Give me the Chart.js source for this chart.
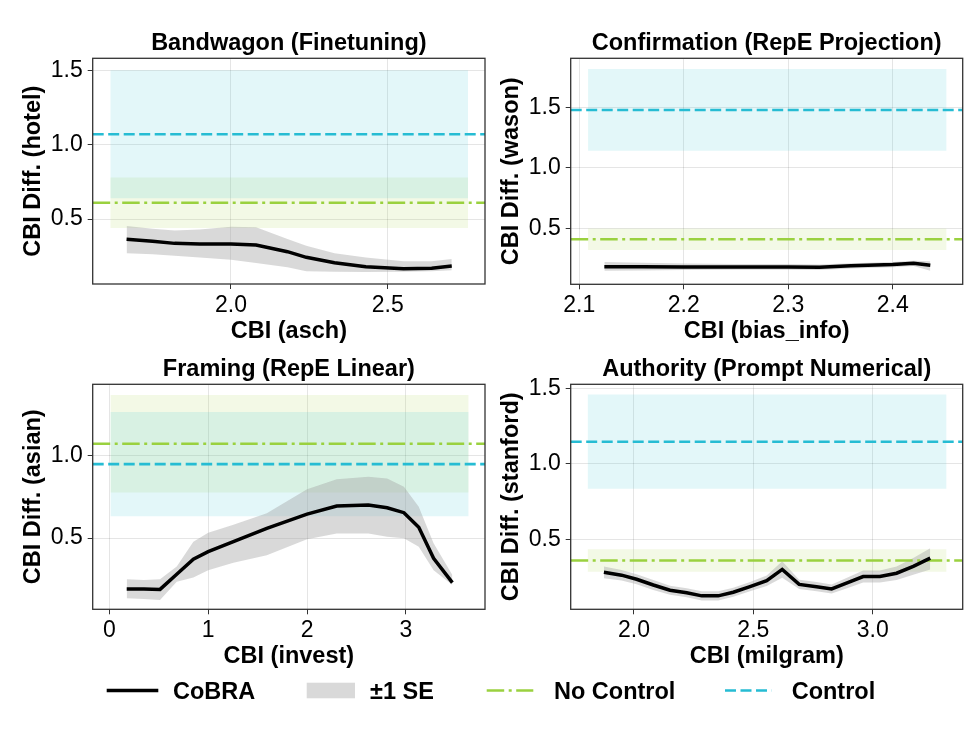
<!DOCTYPE html>
<html>
<head>
<meta charset="utf-8">
<script src="https://cdn.jsdelivr.net/npm/chart.js@4.4.0/dist/chart.umd.min.js"></script>
<style>
  html, body { margin: 0; padding: 0; background: #fff; }
  #page { position: relative; width: 968px; height: 752px; overflow: hidden; }
  #page canvas { position: absolute; }
  #legend { position: absolute; left: 0; top: 670px; }
</style>
</head>
<body>
<div id="page">
  <canvas id="bandwagon" width="490" height="346" style="left:0;top:0"></canvas>
  <canvas id="confirmation" width="490" height="346" style="left:478px;top:0"></canvas>
  <canvas id="framing" width="490" height="326" style="left:0;top:346px"></canvas>
  <canvas id="authority" width="490" height="326" style="left:478px;top:346px"></canvas>
  <svg id="legend" width="968" height="40" font-family="Liberation Sans, Arial, sans-serif" font-weight="bold" font-size="23.5">
    <line x1="106.7" x2="158.3" y1="20.5" y2="20.5" stroke="#000" stroke-width="3.3"/>
    <text x="173" y="28.5">CoBRA</text>
    <rect x="306.7" y="12.7" width="48.3" height="15.6" fill="#d9d9d9"/>
    <text x="370" y="28.5">±1 SE</text>
    <line x1="486.7" x2="533.3" y1="20.5" y2="20.5" stroke="#9ad13f" stroke-width="2.6" stroke-dasharray="17.5 4.5 3 4.5"/>
    <text x="554" y="28.5">No Control</text>
    <line x1="725" x2="771.7" y1="20.5" y2="20.5" stroke="#26bcd3" stroke-width="2.6" stroke-dasharray="11 4.5"/>
    <text x="791.7" y="28.5">Control</text>
  </svg>
</div>
<script>
// --- Bandwagon (Finetuning) ---
const bandwagonX    = [1.667, 1.75, 1.82, 1.90, 2.00, 2.08, 2.18, 2.24, 2.33, 2.43, 2.55, 2.64, 2.704];
const bandwagonMean = [0.363, 0.350, 0.336, 0.332, 0.332, 0.325, 0.280, 0.242, 0.206, 0.179, 0.165, 0.168, 0.183];
const bandwagonHigh = [0.453, 0.435, 0.422, 0.430, 0.448, 0.445, 0.365, 0.320, 0.270, 0.240, 0.215, 0.215, 0.230];
const bandwagonLow  = [0.270, 0.262, 0.253, 0.240, 0.225, 0.204, 0.175, 0.148, 0.144, 0.143, 0.144, 0.148, 0.155];
const bandwagonControl = [1.072, 0.431];   // mean, SE
const bandwagonNoControl = [0.610, 0.171];

// --- Confirmation (RepE Projection) ---
const confirmationX    = [2.124, 2.16, 2.20, 2.25, 2.30, 2.33, 2.36, 2.40, 2.42, 2.436];
const confirmationMean = [0.183, 0.182, 0.180, 0.180, 0.180, 0.177, 0.190, 0.200, 0.210, 0.195];
const confirmationHigh = [0.222, 0.215, 0.208, 0.205, 0.205, 0.200, 0.212, 0.222, 0.232, 0.228];
const confirmationLow  = [0.150, 0.152, 0.155, 0.157, 0.157, 0.155, 0.168, 0.178, 0.188, 0.150];
const confirmationControl = [1.478, 0.338];
const confirmationNoControl = [0.409, 0.089];

// --- Framing (RepE Linear) ---
const framingX    = [0.176, 0.35, 0.513, 0.682, 0.85, 1.00, 1.255, 1.593, 2.00, 2.30, 2.62, 2.81, 2.98, 3.13, 3.28, 3.47];
const framingMean = [0.190, 0.190, 0.188, 0.280, 0.372, 0.417, 0.478, 0.559, 0.645, 0.694, 0.700, 0.684, 0.654, 0.565, 0.377, 0.229];
const framingHigh = [0.250, 0.245, 0.250, 0.327, 0.478, 0.532, 0.580, 0.650, 0.796, 0.857, 0.873, 0.862, 0.812, 0.690, 0.468, 0.276];
const framingLow  = [0.134, 0.130, 0.123, 0.234, 0.260, 0.305, 0.350, 0.396, 0.492, 0.528, 0.528, 0.508, 0.498, 0.447, 0.305, 0.214];
const framingControl = [0.949, 0.316];
const framingNoControl = [1.073, 0.296];

// --- Authority (Prompt Numerical) ---
const authorityX    = [1.874, 1.948, 2.011, 2.081, 2.151, 2.221, 2.284, 2.353, 2.416, 2.486, 2.556, 2.621, 2.692, 2.765, 2.828, 2.890, 2.960, 3.030, 3.100, 3.170, 3.241];
const authorityMean = [0.281, 0.262, 0.235, 0.197, 0.162, 0.146, 0.125, 0.125, 0.149, 0.186, 0.225, 0.300, 0.201, 0.186, 0.171, 0.209, 0.253, 0.253, 0.275, 0.320, 0.375];
const authorityHigh = [0.320, 0.297, 0.268, 0.230, 0.192, 0.176, 0.155, 0.155, 0.179, 0.216, 0.260, 0.355, 0.231, 0.216, 0.201, 0.244, 0.293, 0.293, 0.320, 0.375, 0.440];
const authorityLow  = [0.242, 0.227, 0.202, 0.164, 0.132, 0.116, 0.095, 0.095, 0.119, 0.156, 0.190, 0.245, 0.171, 0.156, 0.141, 0.174, 0.213, 0.213, 0.230, 0.265, 0.300];
const authorityControl = [1.146, 0.312];
const authorityNoControl = [0.359, 0.074];

// tick values
const bandwagonXTicks = [2.0, 2.5],               bandwagonYTicks = [0.5, 1.0, 1.5];
const confirmationXTicks = [2.1, 2.2, 2.3, 2.4],  confirmationYTicks = [0.5, 1.0, 1.5];
const framingXTicks = [0, 1, 2, 3],               framingYTicks = [0.5, 1.0];
const authorityXTicks = [2.0, 2.5, 3.0],          authorityYTicks = [0.5, 1.0, 1.5];

const FONT = 'Liberation Sans, Arial, Helvetica, sans-serif';
const GREEN = '#9ad13f';
const CYAN = '#26bcd3';
Chart.defaults.font.family = FONT;

const panels = [
  { id: 'bandwagon', title: 'Bandwagon (Finetuning)', xLabel: 'CBI (asch)', yLabel: 'CBI Diff. (hotel)',
    x: bandwagonX, mean: bandwagonMean, high: bandwagonHigh, low: bandwagonLow,
    ctrl: bandwagonControl, noCtrl: bandwagonNoControl,
    xTicks: bandwagonXTicks, yTicks: bandwagonYTicks, xDec: 1,
    xLim: [1.559, 2.81], yLim: [0.062, 1.584],
    box: [0, 0, 490, 346], area: [92.7, 58.3, 485, 284] },
  { id: 'confirmation', title: 'Confirmation (RepE Projection)', xLabel: 'CBI (bias_info)', yLabel: 'CBI Diff. (wason)',
    x: confirmationX, mean: confirmationMean, high: confirmationHigh, low: confirmationLow,
    ctrl: confirmationControl, noCtrl: confirmationNoControl,
    xTicks: confirmationXTicks, yTicks: confirmationYTicks, xDec: 1,
    xLim: [2.0918, 2.467], yLim: [0.037, 1.905],
    box: [478, 0, 490, 346], area: [570.7, 58.3, 962.7, 284.3] },
  { id: 'framing', title: 'Framing (RepE Linear)', xLabel: 'CBI (invest)', yLabel: 'CBI Diff. (asian)',
    x: framingX, mean: framingMean, high: framingHigh, low: framingLow,
    ctrl: framingControl, noCtrl: framingNoControl,
    xTicks: framingXTicks, yTicks: framingYTicks, xDec: 0,
    xLim: [-0.168, 3.8], yLim: [0.067, 1.434],
    box: [0, 346, 490, 326], area: [92.7, 384.3, 485, 609.3] },
  { id: 'authority', title: 'Authority (Prompt Numerical)', xLabel: 'CBI (milgram)', yLabel: 'CBI Diff. (stanford)',
    x: authorityX, mean: authorityMean, high: authorityHigh, low: authorityLow,
    ctrl: authorityControl, noCtrl: authorityNoControl,
    xTicks: authorityXTicks, yTicks: authorityYTicks, xDec: 1,
    xLim: [1.735, 3.377], yLim: [0.036, 1.526],
    box: [478, 346, 490, 326], area: [570.7, 384.3, 962.7, 609.3] }
];

const X_AXIS_H = 61.5;

// title above the plot + frame around it
const decorPlugin = {
  id: 'decor',
  afterDatasetsDraw(chart) {
    const { ctx, chartArea: a } = chart;
    ctx.save();
    ctx.strokeStyle = '#333';
    ctx.lineWidth = 1.3;
    ctx.strokeRect(a.left, a.top, a.right - a.left, a.bottom - a.top);
    ctx.restore();
  },
  afterDraw(chart, args, opts) {
    const { ctx, chartArea: a } = chart;
    ctx.save();
    ctx.font = 'bold 23.5px ' + FONT;
    ctx.fillStyle = '#000';
    ctx.textAlign = 'center';
    ctx.textBaseline = 'alphabetic';
    ctx.fillText(opts.text, (a.left + a.right) / 2, a.top - 8);
    ctx.restore();
  }
};

function pts(xs, ys) { return xs.map((x, i) => ({ x: x, y: ys[i] })); }
function flat(x0, x1, y) { return [{ x: x0, y: y }, { x: x1, y: y }]; }

panels.forEach(p => {
  const lo = Math.min(...p.x), hi = Math.max(...p.x);
  const pad = (hi - lo) * 0.05;
  const b0 = lo - pad, b1 = hi + pad;
  const hidden = { borderWidth: 0, borderColor: 'rgba(0,0,0,0)', pointRadius: 0 };

  const datasets = [
    { data: pts(p.x, p.mean), borderColor: '#000', borderWidth: 3.5, pointRadius: 0, fill: false, tension: 0 },
    { data: flat(p.xLim[0], p.xLim[1], p.ctrl[0]), borderColor: CYAN, borderWidth: 2.6, borderDash: [11, 4.5], pointRadius: 0, fill: false },
    { data: flat(p.xLim[0], p.xLim[1], p.noCtrl[0]), borderColor: GREEN, borderWidth: 2.6, borderDash: [17.5, 4.5, 3, 4.5], pointRadius: 0, fill: false },
    Object.assign({ data: pts(p.x, p.high), fill: 4, backgroundColor: 'rgba(160,160,160,0.4)' }, hidden),
    Object.assign({ data: pts(p.x, p.low), fill: false }, hidden),
    Object.assign({ data: flat(b0, b1, p.ctrl[0] + p.ctrl[1]), fill: 6, backgroundColor: 'rgba(23,190,207,0.12)' }, hidden),
    Object.assign({ data: flat(b0, b1, p.ctrl[0] - p.ctrl[1]), fill: false }, hidden),
    Object.assign({ data: flat(b0, b1, p.noCtrl[0] + p.noCtrl[1]), fill: 8, backgroundColor: 'rgba(154,205,50,0.12)' }, hidden),
    Object.assign({ data: flat(b0, b1, p.noCtrl[0] - p.noCtrl[1]), fill: false }, hidden)
  ];

  const [cl, ct, cw, chh] = p.box;
  const [L, T, R, B] = p.area;

  new Chart(document.getElementById(p.id), {
    type: 'line',
    data: { datasets: datasets },
    plugins: [decorPlugin],
    options: {
      responsive: false,
      animation: false,
      devicePixelRatio: 1,
      layout: { padding: { left: 0, top: T - ct, right: cl + cw - R, bottom: ct + chh - B - X_AXIS_H } },
      plugins: {
        legend: { display: false },
        tooltip: { enabled: false },
        decor: { text: p.title }
      },
      scales: {
        x: {
          type: 'linear',
          min: p.xLim[0], max: p.xLim[1],
          afterBuildTicks: s => { s.ticks = p.xTicks.map(v => ({ value: v })); },
          afterFit: s => { s.height = X_AXIS_H; },
          ticks: {
            color: '#000', font: { size: 23 }, padding: 3, maxRotation: 0, autoSkip: false,
            callback: v => Number(v).toFixed(p.xDec)
          },
          grid: { color: 'rgba(0,0,0,0.1)', lineWidth: 1, tickColor: '#333', tickLength: 5 },
          border: { display: false },
          title: { display: true, text: p.xLabel, color: '#000', font: { size: 23.5, weight: 'bold' }, padding: { top: 0, bottom: 0 } }
        },
        y: {
          type: 'linear',
          min: p.yLim[0], max: p.yLim[1],
          afterBuildTicks: s => { s.ticks = p.yTicks.map(v => ({ value: v })); },
          afterFit: s => { s.width = L - cl; },
          ticks: {
            color: '#000', font: { size: 23 }, padding: 5, autoSkip: false,
            callback: v => Number(v).toFixed(1)
          },
          grid: { color: 'rgba(0,0,0,0.1)', lineWidth: 1, tickColor: '#333', tickLength: 5 },
          border: { display: false },
          title: { display: true, text: p.yLabel, color: '#000', font: { size: 23.5, weight: 'bold' }, padding: { top: 19, bottom: 0 } }
        }
      }
    }
  });
});
</script>
</body>
</html>
